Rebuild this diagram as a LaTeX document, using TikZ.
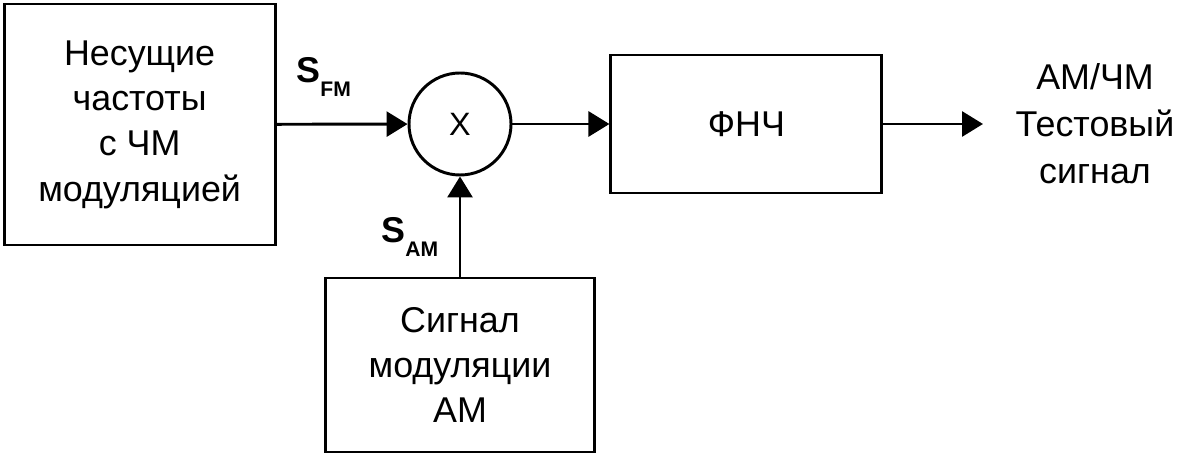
\documentclass[tikz,border=0pt]{standalone}
\usepackage{fontspec}
\setmainfont{Liberation Sans}
\usetikzlibrary{arrows.meta}
\usetikzlibrary{positioning}

\begin{document}
\begin{tikzpicture}[
    line width=2.1pt,
    font=\fontsize{25.5}{32.2}\selectfont
]
\tikzset{
    block/.style = {rectangle, draw=black, align=center, inner sep=0pt},
    mixer/.style = {circle, draw=black, align=center, inner sep=0pt, minimum size=2.55cm, font=\fontsize{23}{26}\selectfont},
    sig/.style = {-{Triangle[length=0.525cm,width=0.625cm]}},
    siglabel/.style = {anchor=base west, inner sep=0pt, font=\fontsize{25.5}{28}\selectfont\bfseries},
    outtext/.style = {align=center, font=\fontsize{25.5}{33.4}\selectfont}
}
\useasboundingbox (0,0) rectangle (29.675,11.375);
\node[block, minimum width=6.775cm, minimum height=6.025cm] at (3.49,8.2625) (carrier) {Несущие\\частоты\\с ЧМ\\модуляцией};
\node[mixer] at (11.5,8.275) (mix) {X};
\node[block, minimum width=6.775cm, minimum height=3.45cm] at (18.66,8.275) (lpf) {ФНЧ};
\node[block, minimum width=6.725cm, minimum height=4.35cm] at (11.5,2.25) (modsrc) {Сигнал\\модуляции\\АМ};
\coordinate (outend) at (24.575,8.275);
\node[outtext] at (27.375,8.28) (out) {АМ/ЧМ\\Тестовый\\сигнал};
\node[siglabel] at (7.375,9.3) (sfm) {S\raisebox{-0.35cm}{\fontsize{15}{16}\selectfont FM}};
\node[siglabel] at (9.5,5.3) (sam) {S\raisebox{-0.35cm}{\fontsize{15}{16}\selectfont AM}};
\draw[sig] (carrier) -- (mix);
\draw[sig] (mix) -- (lpf);
\draw[sig] (modsrc) -- (mix);
\draw[sig] (lpf) -- (outend);
\end{tikzpicture}
\end{document}
